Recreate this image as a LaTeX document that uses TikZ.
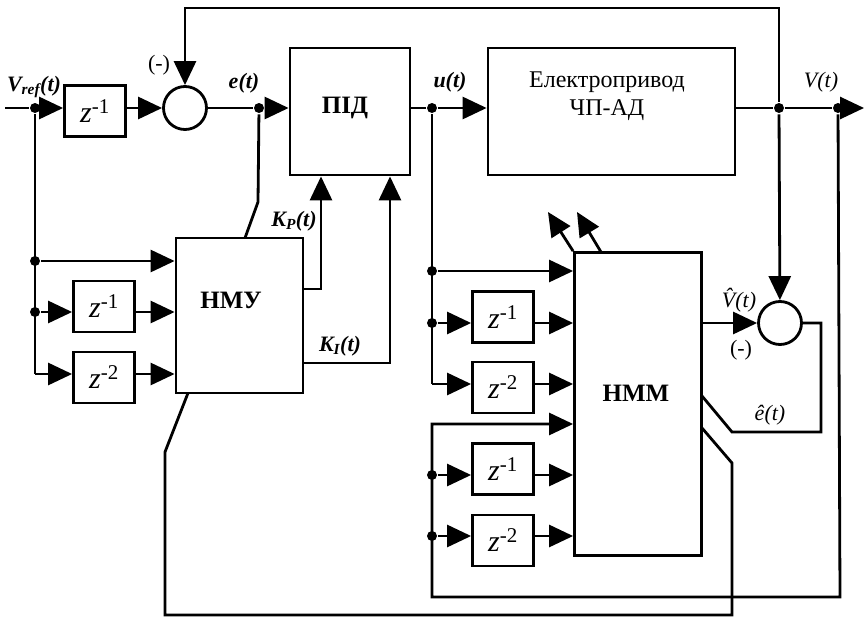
\documentclass[tikz,border=0pt]{standalone}
\usepackage{fontspec}
\setmainfont{Liberation Serif}
\usetikzlibrary{arrows.meta}
\begin{document}
\begin{tikzpicture}[x=1pt,y=-1pt,
  line width=2.8pt,
  box/.style={draw,inner sep=0pt,line width=2.8pt},
  zbox/.style={box,minimum width=61pt,minimum height=51pt,font=\fontsize{30}{33}\selectfont},
  sum/.style={draw,circle,minimum size=43pt,inner sep=0pt,line width=2.8pt},
  dot/.style={circle,fill=black,inner sep=0pt,minimum size=10pt},
  arr/.style={-{Triangle[length=24pt,width=22pt]}},
  btxt/.style={font=\fontsize{25}{29}\selectfont\bfseries},
  lbl/.style={font=\fontsize{22}{24}\selectfont\bfseries\itshape,inner sep=0pt},
  ilbl/.style={font=\fontsize{22}{24}\selectfont\itshape,inner sep=0pt},
]
\useasboundingbox (0,0) rectangle (865,618);
\newcommand{\zm}[1]{\textit{z}\textsuperscript{#1}}
% blocks
\node[zbox] (z0) at (95,111) {\zm{-1}};
\node[sum] (s1) at (185,108) {};
\node[box,minimum width=120pt,minimum height=127pt] (pid) at (350,111.5) {};
\node[btxt,font=\fontsize{25}{29}\selectfont] (pidtxt) at (345,108) {\textbf{ПІД}};
\node[box,minimum width=247pt,minimum height=127pt] (drv) at (611.5,111.5) {};
\node[font=\fontsize{24}{28}\selectfont,align=center] (drvtxt) at (607,96) {Електропривод\\ЧП-АД};
\node[box,minimum width=127pt,minimum height=155pt] (nmu) at (239.5,315.5) {};
\node[btxt] (nmutxt) at (231,300) {НМУ};
\node[zbox] (z1) at (104,306.5) {\zm{-1}};
\node[zbox] (z2) at (104,377.5) {\zm{-2}};
\node[box,minimum width=127pt,minimum height=303pt] (hmm) at (638,404) {};
\node[btxt] (hmmtxt) at (636,393) {НММ};
\node[zbox] (z3) at (503,317) {\zm{-1}};
\node[zbox] (z4) at (503,387.5) {\zm{-2}};
\node[zbox] (z5) at (503,469) {\zm{-1}};
\node[zbox] (z6) at (503,540.5) {\zm{-2}};
\node[sum] (s2) at (780,323) {};
% junctions
\coordinate (in) at (5,108);
\node[dot] (j0) at (35,108) {};
\node[dot] (je) at (259,108) {};
\node[dot] (ju) at (432,108) {};
\node[dot] (jv) at (779,108) {};
\node[dot] (jo) at (838,108) {};
\coordinate (out) at (864,108);
\coordinate (top) at (779,8);
\node[dot] (jn1) at (35,261) {};
\node[dot] (jn2) at (35,312) {};
\coordinate (cn3) at (35,374);
\node[dot] (j1) at (432,271) {};
\node[dot] (j2) at (432,323) {};
\coordinate (c4) at (432,384);
\coordinate (c5) at (432,424);
\node[dot] (j5) at (432,475) {};
\node[dot] (j6) at (432,536) {};
\coordinate (b1) at (840,597);
\coordinate (b2) at (432,597);
% main forward path
\draw (in) -- (j0);
\draw[arr] (j0) -- (j0 -| z0.west);
\draw[arr] (z0.east |- s1) -- (s1);
\draw (s1) -- (je);
\draw[arr] (je) -- (je -| pid.west);
\draw (pid.east |- ju) -- (ju);
\draw[arr] (ju) -- (ju -| drv.west);
\draw (drv.east |- jv) -- (jv) -- (jo);
\draw[arr] (jo) -- (out);
% feedback
\draw[arr] (jv) -- (top) -| (s1);
\draw[arr] (jv) -- (s2);
% NMU inputs
\draw (j0) -- (cn3);
\draw[arr] (jn1) -- (jn1 -| nmu.west);
\draw[arr] (jn2) -- (jn2 -| z1.west);
\draw[arr] (z1.east |- jn2) -- (jn2 -| nmu.west);
\draw[arr] (cn3) -- (cn3 -| z2.west);
\draw[arr] (z2.east |- cn3) -- (cn3 -| nmu.west);
% NMU outputs
\coordinate (kp) at (321,289);
\coordinate (ki) at (390,363);
\draw[arr] (kp -| nmu.east) -- (kp) -- (kp |- pid.south);
\draw[arr] (ki -| nmu.east) -- (ki) -- (ki |- pid.south);
\coordinate (nt1) at (245,238);
\coordinate (nt2) at (258,202);
\draw (nt1) -- (nt2) -- (je);
% HMM inputs
\draw (ju) -- (c4);
\draw[arr] (j1) -- (j1 -| hmm.west);
\draw[arr] (j2) -- (j2 -| z3.west);
\draw[arr] (z3.east |- j2) -- (j2 -| hmm.west);
\draw[arr] (c4) -- (c4 -| z4.west);
\draw[arr] (z4.east |- c4) -- (c4 -| hmm.west);
\draw[arr] (jo) -- (b1) -- (b2) -- (c5) -- (c5 -| hmm.west);
\draw[arr] (j5) -- (j5 -| z5.west);
\draw[arr] (z5.east |- j5) -- (j5 -| hmm.west);
\draw[arr] (j6) -- (j6 -| z6.west);
\draw[arr] (z6.east |- j6) -- (j6 -| hmm.west);
% HMM top arrows
\coordinate (ha1) at (548,212);
\coordinate (hb0) at (601,252);
\coordinate (hb1) at (577,212);
\draw[arr] (hmm.north west) -- (ha1);
\draw[arr] (hb0) -- (hb1);
% HMM output and error
\draw[arr] (hmm.east |- s2) -- (s2);
\coordinate (e1) at (821,323);
\coordinate (e2) at (821,432);
\coordinate (e3) at (732,432);
\coordinate (e4) at (702,396);
\draw (s2) -- (e1) -- (e2) -- (e3) -- (e4);
% HMM to NMU loop
\coordinate (f0) at (702,428);
\coordinate (f1) at (732,463);
\coordinate (f2) at (732,615);
\coordinate (f3) at (165,615);
\coordinate (f4) at (165,452);
\coordinate (f5) at (188,393);
\draw (f0) -- (f1) -- (f2) -- (f3) -- (f4) -- (f5);
% labels
\node[lbl] (lvref) at (34,87) {V\textsubscript{ref}(t)};
\node[font=\fontsize{22}{24}\selectfont,inner sep=0pt] (lm1) at (159,65) {(-)};
\node[lbl] (le) at (244,83) {e(t)};
\node[lbl] (lu) at (450,82) {u(t)};
\node[ilbl] (lv) at (821,82) {V(t)};
\node[lbl] (lkp) at (294,221) {K\textsubscript{P}(t)};
\node[lbl] (lki) at (340,346) {K\textsubscript{I}(t)};
\node[ilbl] (lvh) at (739,300) {\^{V}(t)};
\node[font=\fontsize{22}{24}\selectfont,inner sep=0pt] (lm2) at (741,350) {(-)};
\node[ilbl] (leh) at (770,415) {\^{e}(t)};
\end{tikzpicture}
\end{document}
